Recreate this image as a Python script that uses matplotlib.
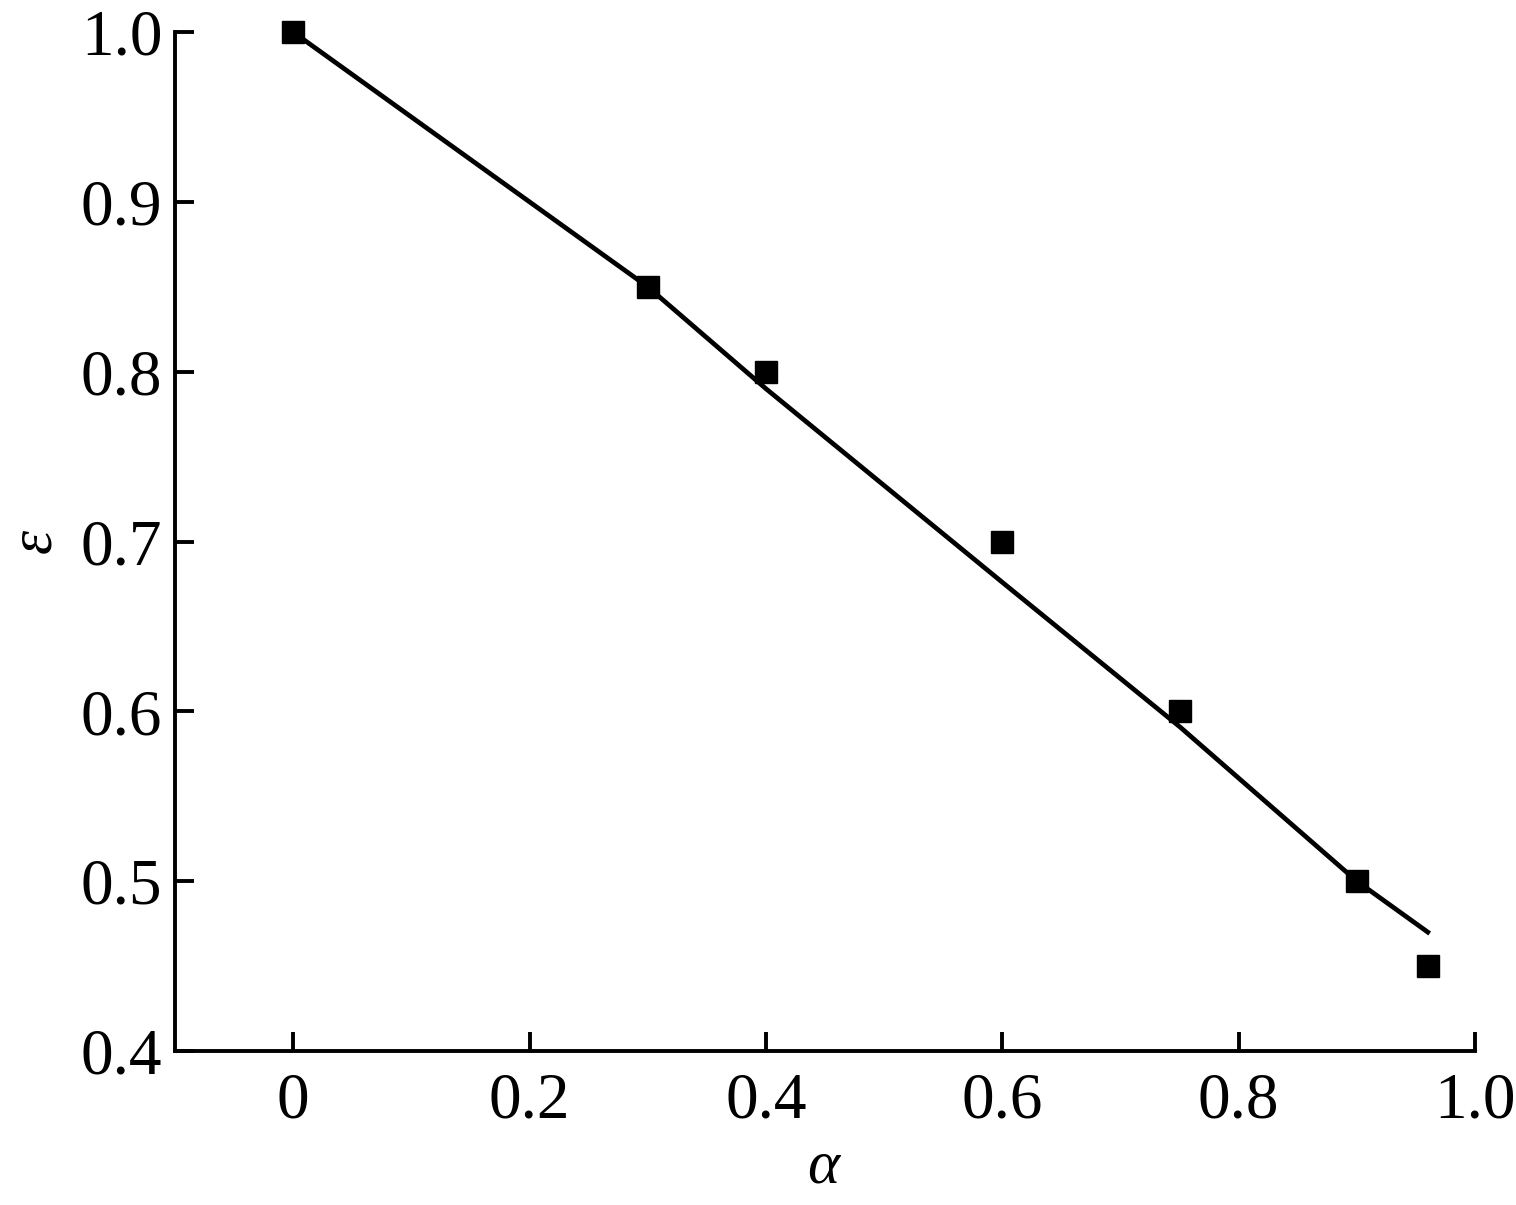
import numpy as np
import matplotlib.pyplot as plt

plt.rcParams['font.family'] = ['Liberation Serif', 'DejaVu Serif']
plt.rcParams['mathtext.fontset'] = 'custom'
plt.rcParams['mathtext.it'] = 'Liberation Serif:italic'
plt.rcParams['mathtext.rm'] = 'Liberation Serif'

# measured points
alpha = [0, 0.3, 0.4, 0.6, 0.75, 0.9, 0.96]
eps = [1.0, 0.85, 0.80, 0.70, 0.60, 0.50, 0.45]
# fitted curve, read at the same alpha values
eps_fit = [1.0, 0.85, 0.79, 0.676, 0.591, 0.50, 0.47]

xticks = [0, 0.2, 0.4, 0.6, 0.8, 1.0]
xtick_labels = ['0', '0.2', '0.4', '0.6', '0.8', '1.0']
yticks = [0.4, 0.5, 0.6, 0.7, 0.8, 0.9, 1.0]

fig = plt.figure(figsize=(15.16, 12.05), dpi=100)
ax = fig.add_axes([0.1154, 0.1278, 0.973 - 0.1154, 0.9734 - 0.1278])

ax.plot(alpha, eps_fit, color='black', lw=3.4, zorder=2, clip_on=False)
ax.plot(alpha, eps, 's', color='black', markersize=16.5, zorder=3, clip_on=False)

ax.set_xlim(-0.1, 1.0)
ax.set_ylim(0.4, 1.0)
ax.set_xticks(xticks)
ax.set_xticklabels(xtick_labels)
ax.set_yticks(yticks)
ax.set_yticklabels(['%.1f' % v for v in yticks])

for s in ['top', 'right']:
    ax.spines[s].set_visible(False)
for s in ['left', 'bottom']:
    ax.spines[s].set_linewidth(2.8)

ax.tick_params(axis='both', direction='in', length=14, width=2.8, labelsize=47)
ax.tick_params(axis='x', pad=15)
ax.tick_params(axis='y', pad=9)

ax.set_xlabel(r'$\alpha$', fontsize=44, labelpad=6)
ax.set_ylabel(r'$\varepsilon$', fontsize=44, labelpad=12)

fig.savefig('out.png', dpi=100)
